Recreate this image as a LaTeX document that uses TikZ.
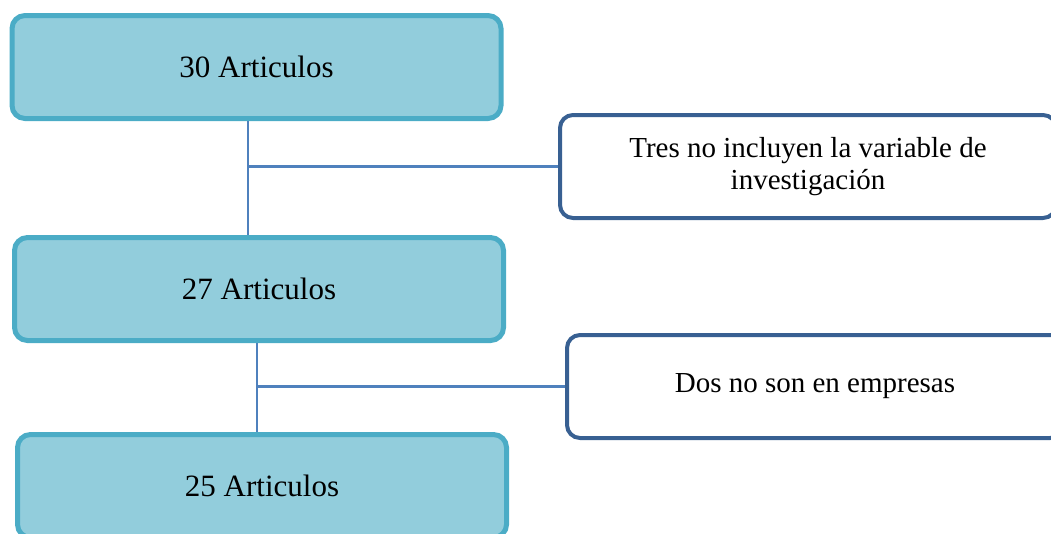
\documentclass[tikz,border=0pt]{standalone}
\usepackage{fontspec}
\setmainfont{Liberation Serif}
\definecolor{boxfill}{HTML}{92CDDC}
\definecolor{boxline}{HTML}{4BACC6}
\definecolor{darkline}{RGB}{56,96,146}
\definecolor{connline}{HTML}{4F81BD}
\begin{document}
\begin{tikzpicture}[x=1pt,y=-1pt,
  countbox/.style={rectangle, rounded corners=13pt, draw=boxline, fill=boxfill, line width=5pt,
    minimum width=489pt, minimum height=103pt, inner sep=0pt, font=\fontsize{31}{36}\selectfont},
  notebox/.style={rectangle, rounded corners=13pt, draw=darkline, fill=white, line width=4pt,
    minimum width=496pt, minimum height=103pt, inner sep=0pt, align=center,
    font=\fontsize{29}{32}\selectfont},
  conn/.style={draw=connline, line width=2.5pt}]
\useasboundingbox (0,0) rectangle (1051,533);
\clip (0,0) rectangle (1051,533);
\node[countbox] (b1) at (256.5,67) {30 Articulos};
\node[countbox] (b2) at (259,289) {27 Articulos};
\node[countbox] (b3) at (262,486) {25 Articulos};
\node[notebox] (r1) at (808,166.5) {Tres no incluyen la variable de\\investigación};
\node[notebox] (r2) at (815,386.5) {Dos no son en empresas};
\coordinate (j1) at (248,166.5);
\coordinate (j2) at (257,386.5);
\draw[conn] (b1.south -| j1) -- (b2.north -| j1);
\draw[conn] (j1) -- (r1.west);
\draw[conn] (b2.south -| j2) -- (b3.north -| j2);
\draw[conn] (j2) -- (r2.west);
\end{tikzpicture}
\end{document}
